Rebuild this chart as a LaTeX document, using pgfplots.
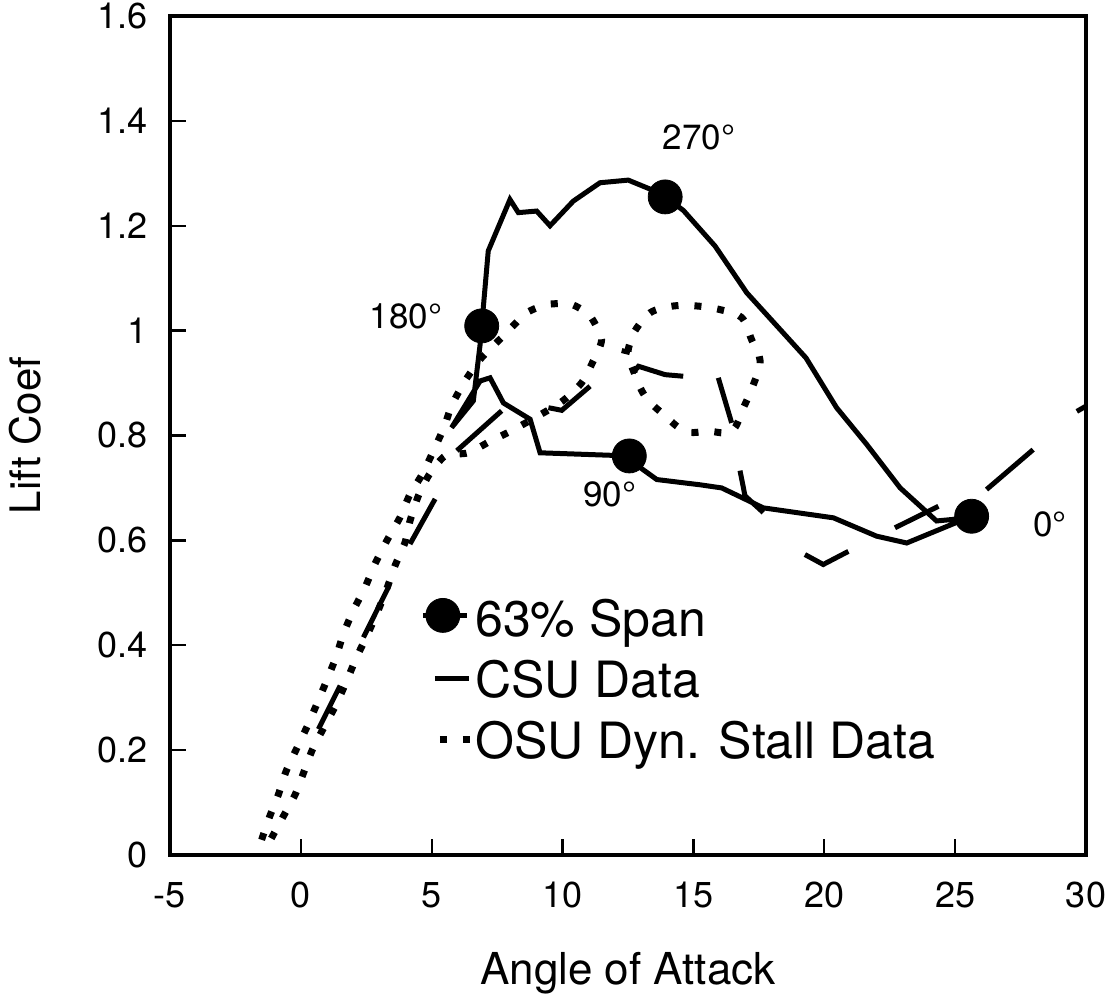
\documentclass[border=0pt]{standalone}
\usepackage{fontspec}
\setmainfont{TeX Gyre Heros}
\usepackage{pgfplots}
\pgfplotsset{compat=1.18}
\begin{document}
\begin{tikzpicture}
\path[use as bounding box] (-85pt,-75pt) rectangle (473.5pt,427.5pt);
\begin{axis}[
  at={(0pt,0pt)}, anchor=south west,
  scale only axis, width=458pt, height=419.5pt,
  xmin=-5, xmax=30, ymin=0, ymax=1.6,
  xtick={-5,0,5,10,15,20,25,30},
  ytick={0,0.2,0.4,0.6,0.8,1,1.2,1.4,1.6},
  tick pos=left, tick align=inside, major tick length=8pt,
  axis line style={line width=2pt},
  tick style={line width=1.2pt, black},
  /pgf/number format/assume math mode=true,
  xticklabel style={font=\fontsize{18}{21}\selectfont, yshift=-10pt},
  yticklabel style={font=\fontsize{18}{21}\selectfont, xshift=-7.7pt},
  xlabel={Angle of Attack}, ylabel={Lift Coef},
  every axis x label/.style={at={(axis description cs:0.5,-0.1538)}, anchor=base, font=\fontsize{22}{26}\selectfont},
  every axis y label/.style={at={(axis description cs:-0.1580,0.5)}, rotate=90, anchor=center, font=\fontsize{21}{25}\selectfont},
  legend style={at={(0.2729,0.3087)}, anchor=north west, draw=none, fill=none, inner sep=0pt,
    font=\fontsize{25}{30}\selectfont, row sep=3.5pt,
    nodes={inner sep=1pt, text height=19pt, text depth=6pt}},
  legend cell align=left,
  unbounded coords=jump,
]
% 63% span, solid loop
\addplot[line width=2.5pt, no marks, forget plot] coordinates {
(25.63,0.646) (23.15,0.595) (22.0,0.608) (20.35,0.643) (17.67,0.662)
(16.08,0.700) (15.25,0.706) (13.6,0.716) (12.96,0.739) (12.55,0.761)
(9.14,0.767) (8.76,0.831) (7.74,0.862) (7.23,0.910) (6.85,0.904)
(5.76,0.815) (6.59,0.866) (6.85,0.974) (6.91,1.009) (7.16,1.152)
(7.99,1.250) (8.31,1.225) (9.01,1.228) (9.52,1.200) (10.41,1.247)
(11.43,1.282) (12.51,1.287) (13.34,1.270) (13.92,1.255) (14.62,1.229)
(15.83,1.161) (17.04,1.072) (19.3,0.948) (20.47,0.853) (21.62,0.783)
(22.9,0.700) (24.29,0.637) (24.92,0.640) (25.63,0.646)
};
\addplot[only marks, mark=*, mark size=8.5pt, black,
  legend image code/.code={\draw[line width=2.5pt] (0pt,4pt) -- (22pt,4pt); \fill (10pt,4pt) circle (8.5pt);}]
  coordinates {(25.63,0.646) (12.55,0.761) (6.91,1.009) (13.92,1.255)};
\addlegendentry{63\% Span}
% CSU data, long dashes (visible segments)
\addplot[line width=2.5pt, no marks,
  legend image code/.code={\draw[line width=2.5pt] (6pt,3pt) -- (23pt,3pt);}]
  coordinates {
(0.67,0.240) (1.50,0.323) (nan,nan)
(2.39,0.415) (3.34,0.510) (nan,nan)
(4.17,0.593) (5.13,0.679) (nan,nan)
(5.96,0.771) (7.67,0.847) (nan,nan)
(9.46,0.853) (9.97,0.848) (11.05,0.894) (nan,nan)
(12.26,0.962) (12.57,0.958) (nan,nan)
(12.7,0.920) (12.9,0.932) (13.92,0.916) (14.61,0.913) (nan,nan)
(15.95,0.910) (16.46,0.824) (nan,nan)
(16.78,0.733) (16.97,0.685) (17.67,0.653) (nan,nan)
(19.26,0.573) (19.96,0.554) (20.92,0.579) (nan,nan)
(22.7,0.624) (24.36,0.665) (nan,nan)
(26.2,0.697) (27.98,0.773) (nan,nan)
(29.65,0.846) (30,0.856)
};
\addlegendentry{CSU Data}
% OSU dynamic stall data, dotted
\addplot[line width=3.5pt, no marks, smooth, tension=0.4, dash pattern=on 3.5pt off 8pt,
  legend image code/.code={\draw[line width=3.5pt, dash pattern=on 3.5pt off 8pt] (8.5pt,3pt) -- (23.5pt,3pt);}]
  coordinates {
(-1.5,0.029) (-1.21,0.071) (-0.86,0.115) (-0.57,0.159) (-0.17,0.202) (0.24,0.245)
(0.62,0.289) (0.98,0.332) (1.34,0.377) (1.62,0.421) (2.0,0.466) (2.45,0.51)
(2.83,0.555) (3.28,0.599) (3.79,0.644) (4.17,0.688) (4.68,0.730) (5.44,0.812)
(5.76,0.857) (6.27,0.904) (6.9,0.948) (7.74,0.990) (8.63,1.034) (9.45,1.05)
(10.34,1.05) (11.05,1.028) (11.49,0.983) (11.17,0.942) (10.72,0.900) (9.9,0.862)
(8.12,0.811) (7.23,0.789) (6.4,0.767) (5.51,0.761) (4.9,0.725) (4.49,0.685)
(4.17,0.637) (3.98,0.596) (3.6,0.552) (3.3,0.51) (2.95,0.466) (2.55,0.421)
(2.13,0.377) (1.75,0.332) (1.36,0.288) (0.9,0.245) (0.45,0.202) (0.12,0.159)
(-0.22,0.115) (-0.70,0.071) (-1.18,0.027)
};
\addlegendentry{OSU Dyn. Stall Data}
\addplot[line width=3.5pt, no marks, smooth, tension=0.6, dash pattern=on 3.5pt off 8pt, forget plot]
  coordinates {
(12.77,1.0) (13.34,1.034) (14.24,1.047) (15.12,1.047) (16.02,1.040) (16.84,1.025)
(17.22,0.983) (17.55,0.942) (17.29,0.897) (16.91,0.853) (16.46,0.808) (15.58,0.808)
(14.69,0.808) (13.86,0.840) (13.15,0.875) (12.71,0.923) (12.5,0.96) (12.77,1.0)
};
\node[font=\fontsize{17.5}{21}\selectfont] at (axis cs:15.21,1.368) {270°};
\node[font=\fontsize{17.5}{21}\selectfont] at (axis cs:4.02,1.027) {180°};
\node[font=\fontsize{17.5}{21}\selectfont] at (axis cs:11.8,0.688) {90°};
\node[font=\fontsize{17.5}{21}\selectfont] at (axis cs:28.63,0.63) {0°};
\end{axis}
\end{tikzpicture}
\end{document}
